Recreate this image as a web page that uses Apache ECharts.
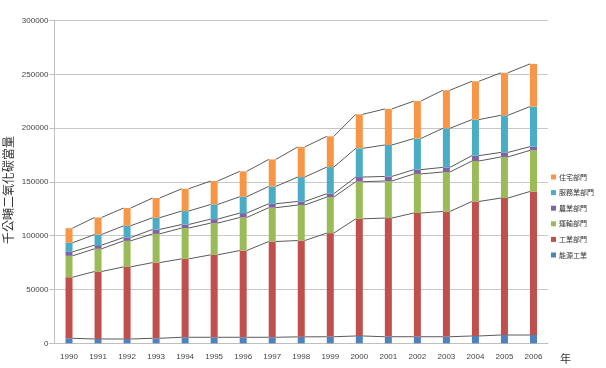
<!DOCTYPE html>
<html>
<head>
<meta charset="utf-8">
<script src="https://cdn.jsdelivr.net/npm/echarts@6/dist/echarts.min.js"></script>
<style>
  html, body { margin: 0; padding: 0; background: #fff; }
  #chart { width: 606px; height: 368px; }
</style>
</head>
<body>
<div id="chart"></div>
<script>
const years = ['1990','1991','1992','1993','1994','1995','1996','1997','1998','1999','2000','2001','2002','2003','2004','2005','2006'];

// stacked from bottom to top
const energy      = [4650, 4000, 4000, 4650, 5600, 5600, 5600, 5600, 6000, 6100, 6800, 6100, 6100, 6100, 6800, 7700, 7700];
const industry    = [56750, 62700, 67000, 70350, 72900, 76600, 80600, 89000, 89500, 96300, 108900, 110300, 115000, 116400, 125000, 127300, 133400];
const transport   = [19900, 21100, 24200, 26700, 28600, 29500, 30700, 31400, 33000, 33500, 34500, 34400, 36300, 36700, 37600, 38200, 38200];
const agriculture = [3700, 3400, 3100, 4100, 3300, 3700, 4100, 3700, 3300, 3100, 4300, 4300, 4000, 4300, 5000, 4200, 3400];
const services    = [8400, 9900, 10900, 10900, 12500, 13600, 15200, 16100, 22700, 24800, 26700, 29200, 28900, 36300, 33500, 34500, 37300];
const residential = [13600, 15800, 16500, 18300, 20700, 21800, 23600, 25100, 28000, 28500, 31600, 33500, 34800, 35400, 35600, 39500, 39700];

const names  = ['能源工業', '工業部門', '運輸部門', '農業部門', '服務業部門', '住宅部門'];
const colors = ['#4F81BD', '#C0504D', '#9BBB59', '#8064A2', '#4BACC6', '#F79646'];
const layers = [energy, industry, transport, agriculture, services, residential];

const barWidth = 7;

const chart = echarts.init(document.getElementById('chart'), null, { renderer: 'canvas' });

// running totals, used for the thin lines joining the segment tops
const cumulative = [];
let running = years.map(() => 0);
layers.forEach(arr => {
  running = running.map((v, i) => v + arr[i]);
  cumulative.push(running.slice());
});

const barSeries = layers.map((arr, k) => ({
  name: names[k],
  type: 'bar',
  stack: 'total',
  barWidth: barWidth,
  itemStyle: { color: colors[k] },
  data: arr
}));

const lineSeries = cumulative.map(cum => ({
  type: 'custom',
  silent: true,
  z: 3,
  encode: { x: 0, y: [1, 2] },
  data: cum.slice(0, -1).map((v, i) => [i, v, cum[i + 1]]),
  renderItem: (params, api) => {
    const i = api.value(0);
    const p1 = api.coord([i, api.value(1)]);
    const p2 = api.coord([i + 1, api.value(2)]);
    return {
      type: 'line',
      shape: { x1: p1[0] + barWidth / 2, y1: p1[1], x2: p2[0] - barWidth / 2, y2: p2[1] },
      style: { stroke: '#5a5a5a', lineWidth: 1 }
    };
  }
}));

chart.setOption({
  animation: false,
  textStyle: { fontFamily: 'Liberation Sans, Noto Sans CJK TC, sans-serif' },
  grid: { left: 54.5, right: 58, top: 20.5, bottom: 24.7, containLabel: false, outerBoundsMode: 'none' },
  legend: {
    data: names.slice().reverse(),
    orient: 'vertical',
    left: 551,
    top: 173,
    padding: 0,
    itemWidth: 5,
    itemHeight: 5,
    itemGap: 7.6,
    icon: 'rect',
    textStyle: { fontSize: 7, lineHeight: 8, color: '#333', padding: [0, 0, 0, -2], fontFamily: 'Noto Sans CJK TC' }
  },
  xAxis: {
    type: 'category',
    data: years,
    name: '年',
    nameLocation: 'end',
    nameGap: 12,
    nameTextStyle: { fontSize: 11, color: '#333', verticalAlign: 'top', padding: [10, 0, 0, 0], fontFamily: 'Noto Sans CJK TC' },
    axisLine: { lineStyle: { color: '#bfbfbf', width: 1 } },
    axisTick: { show: false },
    axisLabel: { fontSize: 8, color: '#444', margin: 9 }
  },
  yAxis: {
    type: 'value',
    min: 0,
    max: 300000,
    interval: 50000,
    name: '千公噸二氧化碳當量',
    nameLocation: 'middle',
    nameRotate: 90,
    nameGap: 40,
    nameMoveOverlap: false,
    nameTextStyle: { fontSize: 12, color: '#333', fontFamily: 'Noto Sans CJK TC', padding: [0, 16, 0, 0] },
    axisLine: { show: true, lineStyle: { color: '#bfbfbf', width: 1 } },
    axisTick: { show: true, length: 5, lineStyle: { color: '#bfbfbf' } },
    axisLabel: { fontSize: 8, color: '#444', margin: 6, formatter: v => String(v) },
    splitLine: { lineStyle: { color: '#c8c8c8', width: 1 } }
  },
  series: barSeries.concat(lineSeries)
});
</script>
</body>
</html>
